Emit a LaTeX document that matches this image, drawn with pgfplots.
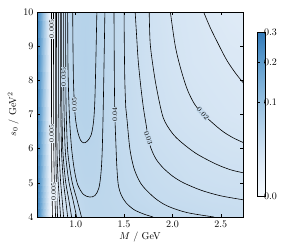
\documentclass[border=0pt]{standalone}
\usepackage{pgfplots}
\pgfplotsset{compat=1.18}
\usepackage{pgfplotstable}
\definecolor{lblbg}{RGB}{196,218,237}

\pgfplotstableread[row sep=\\]{
x y v\\
0.6 4 0.28\\ 0.63 4 0.19\\ 0.66 4 0.10\\ 0.69 4 0.04\\ 0.72 4 0.008\\ 0.75 4 0.0\\ 0.8 4 0.007\\ 0.85 4 0.016\\ 0.9 4 0.023\\ 0.95 4 0.029\\ 1.0 4 0.034\\ 1.1 4 0.042\\ 1.2 4 0.044\\ 1.3 4 0.044\\ 1.4 4 0.043\\ 1.5 4 0.042\\ 1.6 4 0.041\\ 1.8 4 0.040\\ 2.0 4 0.038\\ 2.2 4 0.037\\ 2.4 4 0.035\\ 2.6 4 0.034\\ 2.73 4 0.033\\
0.6 4.5 0.28\\ 0.63 4.5 0.19\\ 0.66 4.5 0.10\\ 0.69 4.5 0.04\\ 0.72 4.5 0.008\\ 0.75 4.5 0.0\\ 0.8 4.5 0.008\\ 0.85 4.5 0.018\\ 0.9 4.5 0.0255\\ 0.95 4.5 0.0325\\ 1.0 4.5 0.038\\ 1.1 4.5 0.0435\\ 1.2 4.5 0.0445\\ 1.3 4.5 0.043\\ 1.4 4.5 0.042\\ 1.5 4.5 0.040\\ 1.6 4.5 0.039\\ 1.8 4.5 0.0355\\ 2.0 4.5 0.034\\ 2.2 4.5 0.0325\\ 2.4 4.5 0.031\\ 2.6 4.5 0.0305\\ 2.73 4.5 0.030\\
0.6 5 0.28\\ 0.63 5 0.19\\ 0.66 5 0.10\\ 0.69 5 0.04\\ 0.72 5 0.008\\ 0.75 5 0.0\\ 0.8 5 0.010\\ 0.85 5 0.021\\ 0.9 5 0.0305\\ 0.95 5 0.038\\ 1.0 5 0.0445\\ 1.1 5 0.047\\ 1.2 5 0.047\\ 1.3 5 0.044\\ 1.4 5 0.041\\ 1.5 5 0.039\\ 1.6 5 0.037\\ 1.8 5 0.034\\ 2.0 5 0.0315\\ 2.2 5 0.029\\ 2.4 5 0.028\\ 2.6 5 0.027\\ 2.73 5 0.027\\
0.6 6 0.28\\ 0.63 6 0.19\\ 0.66 6 0.10\\ 0.69 6 0.04\\ 0.72 6 0.008\\ 0.75 6 0.0\\ 0.8 6 0.011\\ 0.85 6 0.025\\ 0.9 6 0.037\\ 0.95 6 0.0445\\ 1.0 6 0.047\\ 1.1 6 0.049\\ 1.2 6 0.048\\ 1.3 6 0.0445\\ 1.4 6 0.0405\\ 1.5 6 0.037\\ 1.6 6 0.0345\\ 1.8 6 0.0305\\ 2.0 6 0.028\\ 2.2 6 0.0255\\ 2.4 6 0.024\\ 2.6 6 0.0225\\ 2.73 6 0.022\\
0.6 7 0.28\\ 0.63 7 0.19\\ 0.66 7 0.10\\ 0.69 7 0.04\\ 0.72 7 0.008\\ 0.75 7 0.0\\ 0.8 7 0.013\\ 0.85 7 0.026\\ 0.9 7 0.0395\\ 0.95 7 0.047\\ 1.0 7 0.0505\\ 1.1 7 0.053\\ 1.2 7 0.0495\\ 1.3 7 0.0445\\ 1.4 7 0.040\\ 1.5 7 0.036\\ 1.6 7 0.033\\ 1.8 7 0.027\\ 2.0 7 0.024\\ 2.2 7 0.0215\\ 2.4 7 0.0195\\ 2.6 7 0.018\\ 2.73 7 0.017\\
0.6 8.5 0.28\\ 0.63 8.5 0.19\\ 0.66 8.5 0.10\\ 0.69 8.5 0.04\\ 0.72 8.5 0.008\\ 0.75 8.5 0.0\\ 0.8 8.5 0.0135\\ 0.85 8.5 0.0285\\ 0.9 8.5 0.0425\\ 0.95 8.5 0.048\\ 1.0 8.5 0.051\\ 1.1 8.5 0.054\\ 1.2 8.5 0.051\\ 1.3 8.5 0.045\\ 1.4 8.5 0.040\\ 1.5 8.5 0.035\\ 1.6 8.5 0.031\\ 1.8 8.5 0.025\\ 2.0 8.5 0.021\\ 2.2 8.5 0.018\\ 2.4 8.5 0.0165\\ 2.6 8.5 0.015\\ 2.73 8.5 0.0145\\
0.6 10 0.28\\ 0.63 10 0.19\\ 0.66 10 0.10\\ 0.69 10 0.04\\ 0.72 10 0.008\\ 0.75 10 0.0\\ 0.8 10 0.0135\\ 0.85 10 0.0285\\ 0.9 10 0.043\\ 0.95 10 0.048\\ 1.0 10 0.051\\ 1.1 10 0.053\\ 1.2 10 0.051\\ 1.3 10 0.045\\ 1.4 10 0.040\\ 1.5 10 0.035\\ 1.6 10 0.031\\ 1.8 10 0.024\\ 2.0 10 0.0195\\ 2.2 10 0.017\\ 2.4 10 0.014\\ 2.6 10 0.012\\ 2.73 10 0.011\\
}\heat

\begin{document}
\begin{tikzpicture}
\begin{axis}[
  name=main,
  scale only axis,
  width=206pt, height=205pt,
  xmin=0.6, xmax=2.73, ymin=4, ymax=10,
  xtick={1.0,1.5,2.0,2.5}, xticklabels={1.0,1.5,2.0,2.5},
  ytick={4,5,6,7,8,9,10},
  xlabel={$M$ / GeV}, ylabel={$s_0$ / GeV$^2$},
  xlabel style={yshift=2pt},
  ylabel style={yshift=-2pt},
  tick style={black, thin},
  major tick length=3pt,
  axis on top,
  colormap={sqblues}{rgb255(0pt)=(247,251,255); rgb255(20pt)=(222,234,246); rgb255(30pt)=(205,224,241); rgb255(40pt)=(186,213,235); rgb255(58pt)=(150,192,224); rgb255(82pt)=(95,157,206); rgb255(100pt)=(50,122,185)},
  point meta min=0, point meta max=1,
  colorbar,
  colorbar style={
    at={(main.east)}, anchor=west, xshift=6pt,
    width=8pt, height=164pt,
    ytick={0,0.57735,0.81650,1},
    yticklabels={0.0,0.1,0.2,0.3},
    major tick length=2pt,
    yticklabel style={xshift=-5pt},
  },
]
\addplot[surf, shader=interp, mesh/cols=23, point meta={sqrt(\thisrow{v}/0.3)}] table[x=x,y=y] {\heat};

% left dense group
\addplot[black, line width=0.6pt, smooth] coordinates {(0.75,10)(0.7501,8)(0.7504,7)(0.7512,6)(0.7524,5.5)(0.7542,5)(0.7572,4.5)(0.76,4)};
\addplot[black, line width=0.6pt, smooth] coordinates {(0.771,10)(0.7712,8)(0.7718,7)(0.7735,6)(0.776,5.5)(0.7798,5)(0.7861,4.5)(0.792,4)};
\addplot[black, line width=0.6pt, smooth] coordinates {(0.792,10)(0.7922,8)(0.7928,7)(0.7945,6)(0.7969,5.5)(0.8006,5)(0.8068,4.5)(0.8125,4)};
\addplot[black, line width=0.6pt, smooth] coordinates {(0.802,10)(0.8024,8)(0.8037,7)(0.807,6)(0.8121,5.5)(0.8196,5)(0.8322,4.5)(0.844,4)};
\addplot[black, line width=0.6pt, smooth] coordinates {(0.823,10)(0.8235,8)(0.8251,7)(0.8292,6)(0.8355,5.5)(0.8448,5)(0.8604,4.5)(0.875,4)};
\addplot[black, line width=0.6pt, smooth] coordinates {(0.844,10)(0.8447,8)(0.8469,7)(0.8528,6)(0.8615,5.5)(0.8747,5)(0.8966,4.5)(0.917,4)};
\addplot[black, line width=0.6pt, smooth] coordinates {(0.854,10)(0.855,8)(0.8582,7)(0.8665,6)(0.879,5.5)(0.8977,5)(0.9289,4.5)(0.958,4)};
\addplot[black, line width=0.6pt, smooth] coordinates {(0.875,10)(0.8764,8)(0.8804,7)(0.8912,6)(0.9074,5.5)(0.9317,5)(0.9722,4.5)(1.01,4)};
\addplot[black, line width=0.6pt, smooth] coordinates {(0.896,10)(0.8976,8)(0.9026,7)(0.9157,6)(0.9354,5.5)(0.9649,5)(1.014,4.5)(1.06,4)};
% U-shaped contours
\addplot[black, line width=0.6pt, smooth] coordinates {(0.917,10)(0.92,8.5)(0.928,7.5)(0.94,6.7)(0.958,6.0)(0.985,5.4)(1.02,4.95)(1.08,4.66)(1.146,4.585)(1.2,4.63)(1.24,4.85)(1.262,5.3)(1.275,6)(1.287,7.5)(1.302,10)};
\addplot[black, line width=0.6pt, smooth] coordinates {(0.969,10)(0.972,9)(0.977,8)(0.985,7.4)(0.997,6.9)(1.02,6.5)(1.05,6.25)(1.083,6.17)(1.12,6.22)(1.16,6.4)(1.185,6.8)(1.198,7.4)(1.208,8.5)(1.219,10)};
% right-hand contours
\addplot[black, line width=0.6pt, smooth] coordinates {(1.396,10)(1.398,9)(1.40,8)(1.405,7)(1.415,6.2)(1.425,5.5)(1.44,4.95)(1.47,4.65)(1.52,4.42)(1.6,4.22)(1.7,4.09)(1.80,4.0)};
\addplot[black, line width=0.6pt, smooth] coordinates {(1.5,10)(1.503,9)(1.508,8)(1.518,7.2)(1.531,6.84)(1.56,6.0)(1.6,5.45)(1.65,5.1)(1.70,4.88)(1.82,4.55)(1.95,4.32)(2.15,4.13)(2.43,4.0)};
\addplot[black, line width=0.6pt, smooth] coordinates {(1.615,10)(1.63,9.3)(1.646,8.59)(1.67,7.9)(1.70,7.2)(1.729,6.69)(1.75,6.31)(1.78,6.0)(1.83,5.7)(1.90,5.45)(2.0,5.2)(2.115,5.0)(2.3,4.78)(2.5,4.62)(2.74,4.5)};
\addplot[black, line width=0.6pt, smooth] coordinates {(1.76,10)(1.77,9.1)(1.80,8.4)(1.84,7.72)(1.906,6.9)(2.0,6.45)(2.1,6.17)(2.25,5.85)(2.45,5.55)(2.604,5.38)(2.74,5.29)};
\addplot[black, line width=0.6pt, smooth] coordinates {(1.979,10)(2.03,9.0)(2.09,8.3)(2.156,7.72)(2.23,7.3)(2.32,7.0)(2.5,6.55)(2.62,6.33)(2.74,6.17)};
\addplot[black, line width=0.6pt, smooth] coordinates {(2.323,10)(2.39,9.55)(2.47,9.09)(2.56,8.6)(2.65,8.22)(2.74,7.9)};

% contour labels
\node[rotate=90, fill=white!60!lblbg, inner sep=0.5pt, font=\scriptsize] at (axis cs:0.75,9.5) {0.005};
\node[rotate=90, fill=lblbg, inner sep=0.5pt, font=\scriptsize] at (axis cs:0.876,8.1) {0.035};
\node[rotate=90, fill=white!60!lblbg, inner sep=0.5pt, font=\scriptsize] at (axis cs:0.752,6.45) {0.005};
\node[rotate=90, fill=white!60!lblbg, inner sep=0.5pt, font=\scriptsize] at (axis cs:0.772,4.75) {0.005};
\node[rotate=90, fill=lblbg, inner sep=0.5pt, font=\scriptsize] at (axis cs:0.987,7.3) {0.05};
\node[rotate=90, fill=lblbg, inner sep=0.5pt, font=\scriptsize] at (axis cs:1.404,7.0) {0.04};
\node[rotate=-72, fill=lblbg, inner sep=0.5pt, font=\scriptsize] at (axis cs:1.75,6.31) {0.03};
\node[rotate=-48, fill=lblbg, inner sep=0.5pt, font=\scriptsize] at (axis cs:2.315,7.03) {0.02};
\end{axis}
\pgfresetboundingbox
\path (main.south west) ++(-37pt,-35pt) rectangle ++(287pt,252pt);
\end{tikzpicture}
\end{document}
